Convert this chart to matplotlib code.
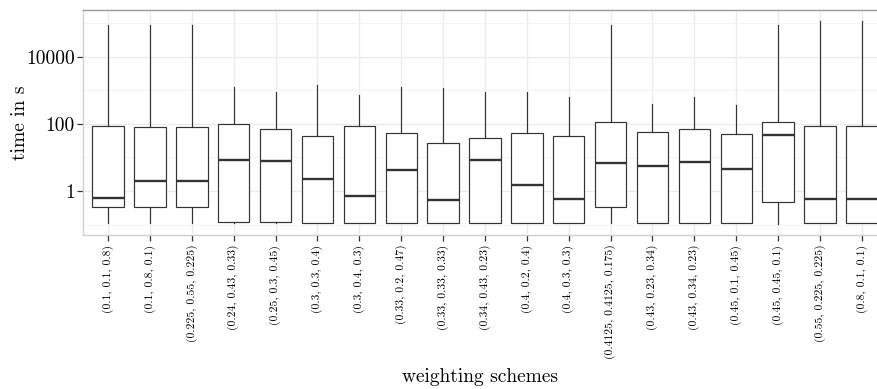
import matplotlib
matplotlib.use("Agg")
import matplotlib.pyplot as plt
from matplotlib.ticker import FixedLocator, NullFormatter

plt.rcParams['font.family'] = ['cmr10', 'DejaVu Serif']
plt.rcParams['axes.formatter.use_mathtext'] = True

categories = ["(0.1, 0.1, 0.8)", "(0.1, 0.8, 0.1)", "(0.225, 0.55, 0.225)",
              "(0.24, 0.43, 0.33)", "(0.25, 0.3, 0.45)", "(0.3, 0.3, 0.4)",
              "(0.3, 0.4, 0.3)", "(0.33, 0.2, 0.47)", "(0.33, 0.33, 0.33)",
              "(0.34, 0.43, 0.23)", "(0.4, 0.2, 0.4)", "(0.4, 0.3, 0.3)",
              "(0.4125, 0.4125, 0.175)", "(0.43, 0.23, 0.34)", "(0.43, 0.34, 0.23)",
              "(0.45, 0.1, 0.45)", "(0.45, 0.45, 0.1)", "(0.55, 0.225, 0.225)",
              "(0.8, 0.1, 0.1)"]
whis_lo = [0.109, 0.109, 0.109, 0.115, 0.115, 0.111, 0.111, 0.111, 0.111, 0.111,
           0.111, 0.111, 0.109, 0.111, 0.111, 0.114, 0.102, 0.111, 0.111]
q1 = [0.33, 0.33, 0.33, 0.117, 0.117, 0.111, 0.111, 0.111, 0.111, 0.111,
      0.111, 0.111, 0.33, 0.111, 0.111, 0.115, 0.48, 0.111, 0.111]
medians = [0.63, 1.95, 1.95, 8.55, 8.0, 2.23, 0.72, 4.22, 0.54, 8.55,
           1.51, 0.58, 6.8, 5.44, 7.3, 4.6, 47.5, 0.58, 0.58]
q3 = [86, 79, 79, 101, 72, 42.6, 88, 54.5, 27.4, 37,
      54.5, 43.4, 113, 57, 68.8, 49.8, 116, 84.5, 84.5]
whis_hi = [88000, 88000, 88000, 1225, 906, 1406, 708, 1277, 1143, 887,
           887, 643, 88000, 382, 643, 357, 88000, 118000, 118000]
y_ticks = [1, 100, 10000]
y_tick_labels = ["1", "100", "10000"]
y_minor = [0.1, 10, 1000, 100000]

stats = []
for i in range(len(categories)):
    stats.append(dict(whislo=whis_lo[i], q1=q1[i], med=medians[i],
                      q3=q3[i], whishi=whis_hi[i], fliers=[]))

fig = plt.figure(figsize=(8.78, 3.89), dpi=100)
W, H = 878, 389
left, right, top, bottom = 83, 887, 10, 235
ax = fig.add_axes([left / W, 1 - bottom / H, (right - left) / W, (bottom - top) / H])

line_c = '#333333'
ax.bxp(stats, positions=range(len(categories)), widths=0.75, showcaps=False,
       showfliers=False, patch_artist=True,
       boxprops=dict(facecolor='white', edgecolor=line_c, linewidth=0.85),
       whiskerprops=dict(color=line_c, linewidth=0.85),
       medianprops=dict(color=line_c, linewidth=1.7),
       zorder=3)

ax.set_yscale('log')
ax.set_ylim(10 ** -1.31, 10 ** 5.39)
ax.set_xlim(-0.6, len(categories) - 1 + 0.6)

ax.yaxis.set_major_locator(FixedLocator(y_ticks))
ax.set_yticklabels(y_tick_labels)
ax.yaxis.set_minor_locator(FixedLocator(y_minor))
ax.yaxis.set_minor_formatter(NullFormatter())
ax.tick_params(axis='y', which='minor', length=0)

ax.set_xticks(range(len(categories)))
ax.set_xticklabels(categories, rotation=90, fontsize=8.4, va='top')

ax.tick_params(axis='both', which='major', length=4, width=0.9, color='#333333',
               labelcolor='black')
ax.tick_params(axis='y', labelsize=14, pad=2)
ax.tick_params(axis='x', pad=3)

ax.grid(True, which='major', color='#ebebeb', linewidth=1.0, zorder=0)
ax.grid(True, which='minor', axis='y', color='#f3f3f3', linewidth=0.6, zorder=0)
ax.set_axisbelow(True)

for s in ['left', 'bottom']:
    ax.spines[s].set_color('#d0d0d0')
    ax.spines[s].set_linewidth(1.0)
ax.spines['top'].set_color('#9a9a9a')
ax.spines['top'].set_linewidth(1.0)
ax.spines['right'].set_color('#9a9a9a')

ax.set_ylabel('time in s', fontsize=14)
ax.set_xlabel('weighting schemes', fontsize=14)
ax.yaxis.set_label_coords((20 - left) / (right - left), 0.5)
ax.xaxis.set_label_coords((480 - left) / (right - left), (bottom - 377) / (bottom - top))
ax.xaxis.label.set_va('center')
ax.yaxis.label.set_va('center')

fig.savefig('out.png', dpi=100)
